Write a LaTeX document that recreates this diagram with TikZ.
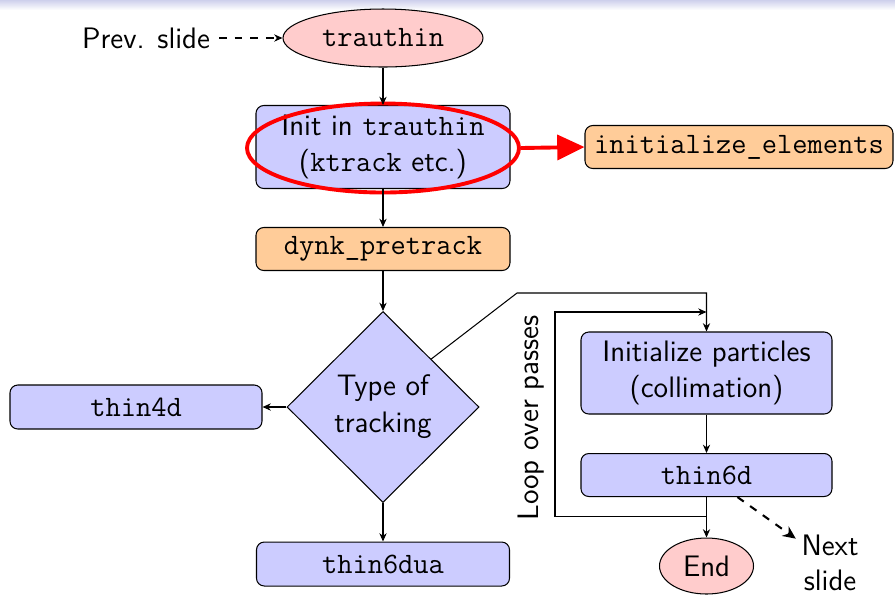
\documentclass[tikz,border=0pt]{standalone}
\usetikzlibrary{shapes.geometric,arrows.meta}
\def\pxu{0.385pt}
\tikzset{
  base/.style={draw, line width=0.4pt, inner sep=0pt, align=center},
  bluebox/.style={base, rounded corners=3pt, fill=blue!20},
  orangebox/.style={base, rounded corners=3pt, fill=orange!40},
  pinkoval/.style={base, ellipse, fill=red!20},
  flow/.style={-{Stealth[length=3.2pt,width=2.8pt]}, line width=0.4pt},
}
\begin{document}
\begin{tikzpicture}[x=\pxu, y=-\pxu,
  font=\sffamily\fontsize{11.4}{13.6}\selectfont]
\useasboundingbox (0,0) rectangle (895,595);

% header band
\shade[top color={rgb,255:red,206;green,208;blue,236}, bottom color=white]
  (0,0) rectangle (895,10);

% main column
\node (prev) at (146,38) {Prev. slide};
\node[pinkoval, minimum width=200*\pxu, minimum height=58*\pxu] (trauthin) at (383,38) {\texttt{trauthin}};
\node[bluebox, minimum width=254*\pxu, minimum height=83*\pxu] (init) at (383,147)
  {Init in \texttt{trauthin}\\(\texttt{ktrack} etc.)};
\node[orangebox, minimum width=308*\pxu, minimum height=43*\pxu] (initel) at (739,147) {\texttt{initialize\_elements}};
\node[orangebox, minimum width=254*\pxu, minimum height=43*\pxu] (dynk) at (383,249) {\texttt{dynk\_pretrack}};
\node[base, diamond, fill=blue!20, minimum width=192*\pxu, minimum height=191*\pxu,
  font=\sffamily\fontsize{11.4}{14.3}\selectfont] (dia) at (383,407) {Type of\\tracking};
\node[bluebox, minimum width=252*\pxu, minimum height=44*\pxu] (thin4d) at (136,407) {\texttt{thin4d}};
\node[bluebox, minimum width=253*\pxu, minimum height=44*\pxu] (thin6dua) at (383,564) {\texttt{thin6dua}};

% collimation branch
\node[bluebox, minimum width=251*\pxu, minimum height=82*\pxu] (initp) at (706.5,373)
  {Initialize particles\\(collimation)};
\node[bluebox, minimum width=251*\pxu, minimum height=43*\pxu] (thin6d) at (706.5,475) {\texttt{thin6d}};
\node[pinkoval, minimum width=94*\pxu, minimum height=56*\pxu] (end) at (706.5,566) {End};
\node[align=center, inner sep=2pt] (next) at (830,563) {Next\\slide};
\node[rotate=90] (loop) at (531,418) {Loop over passes};

% highlight
\node[draw=red, line width=1.5pt, ellipse, minimum width=272*\pxu, minimum height=89*\pxu, inner sep=0pt]
  (hl) at (383,148) {};
\draw[red, line width=1.5pt, -{Triangle[length=10.5pt,width=9.6pt]}] (hl.east) -- (initel.west);

% connectors
\draw[flow, dashed] (prev.east) -- (trauthin.west);
\draw[flow] (trauthin.south) -- (init.north);
\draw[flow] (init.south) -- (dynk.north);
\draw[flow] (dynk.south) -- (dia.north);
\draw[flow] (dia.west) -- (thin4d.east);
\draw[flow] (dia.south) -- (thin6dua.north);

\coordinate (kink) at (517,293);
\coordinate (top) at (706.5,293);
\draw[flow] (dia.north east) -- (kink) -- (top) -- (initp.north);

\draw[flow] (initp.south) -- (thin6d.north);
\draw[flow] (thin6d.south) -- (end.north);

\coordinate (lb) at (706.5,516);
\coordinate (ll) at (555,516);
\coordinate (lu) at (555,312);
\coordinate (lr) at (706.5,312);
\draw[flow] (lb) -- (ll) -- (lu) -- (lr);

\draw[dashed, line width=0.8pt, -{Stealth[length=5pt,width=4.5pt]}] (thin6d) -- (next);
\end{tikzpicture}
\end{document}
